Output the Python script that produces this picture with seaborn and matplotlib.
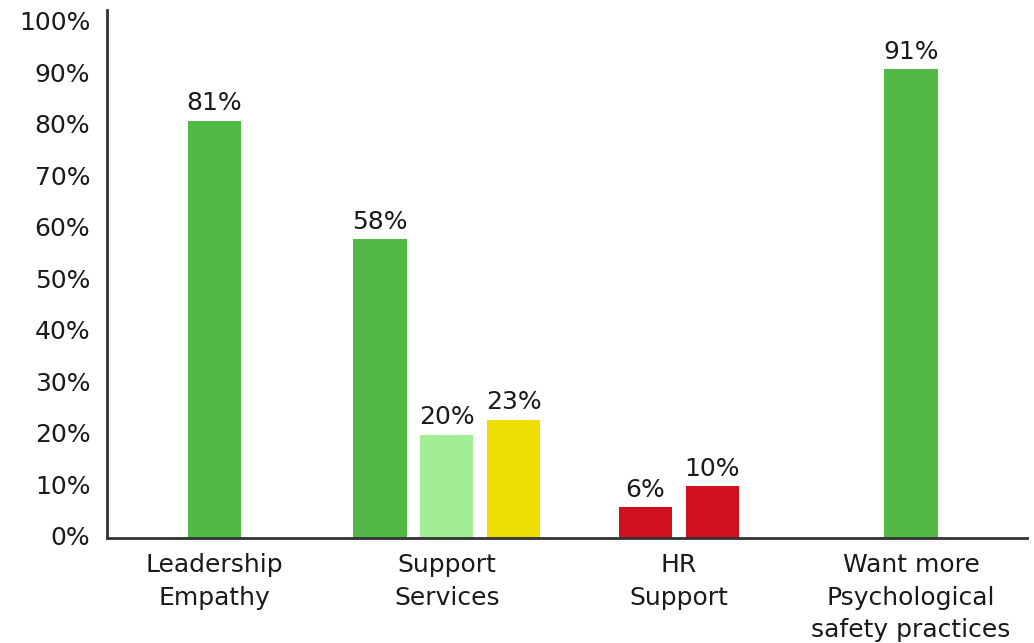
import matplotlib
matplotlib.use("Agg")
import matplotlib.pyplot as plt
import matplotlib.transforms as mtransforms
import numpy as np
import pandas as pd
import seaborn as sns

# Survey results, one list of bar values per question group
groups = ["Leadership\nEmpathy", "Support\nServices", "HR\nSupport",
          "Want more\nPsychological\nsafety practices"]
leadership_empathy = [81]
support_services = [58, 20, 23]
hr_support = [6, 10]
want_more_safety = [91]

leadership_shades = ["positive"]
support_shades = ["positive", "partial", "neutral"]
hr_shades = ["negative", "negative"]
want_shades = ["positive"]

yticks = list(range(0, 101, 10))
ytick_labels = [f"{t}%" for t in yticks]

palette = {
    "positive": "#52B947",
    "partial": "#A3EE94",
    "neutral": "#EEDD00",
    "negative": "#D0101F",
}

# Bars inside a group sit side by side, centred on the group position
slot_step = 0.288
rows = []
for gi, (vals, shades) in enumerate([
    (leadership_empathy, leadership_shades),
    (support_services, support_shades),
    (hr_support, hr_shades),
    (want_more_safety, want_shades),
]):
    n = len(vals)
    for j, (v, s) in enumerate(zip(vals, shades)):
        rows.append({"pos": gi + (j - (n - 1) / 2) * slot_step,
                     "value": v, "shade": s})
df = pd.DataFrame(rows)

sns.set_style("white")
plt.rcParams["font.family"] = ["DejaVu Sans"]
text_color = "#1a1a1a"
fsize = 18

fig = plt.figure(figsize=(10.34, 6.43), dpi=100)
ax = fig.add_axes([0.1035, 0.1633, 0.8895, 0.8211])

sns.barplot(data=df, x="pos", y="value", hue="shade", palette=palette,
            native_scale=True, dodge=False, width=0.80, saturation=1,
            errorbar=None, legend=False, linewidth=0, ax=ax)

for cont in ax.containers:
    ax.bar_label(cont, fmt="{:.0f}%", padding=4, fontsize=fsize,
                 color=text_color)

ax.set_xlim(-0.463, 3.498)
ax.set_ylim(0, 102.5)
ax.set_xticks(range(len(groups)))
ax.set_xticklabels(groups, fontsize=fsize, color=text_color, linespacing=1.45)
ax.set_yticks(yticks)
ax.set_yticklabels(ytick_labels, fontsize=fsize, color=text_color)
ax.tick_params(axis="both", length=0)
ax.tick_params(axis="y", pad=12)
ax.tick_params(axis="x", pad=11)

# lift the percentage labels slightly off their gridline positions
shift = mtransforms.ScaledTranslation(0, 1.5 / 72, fig.dpi_scale_trans)
for lbl in ax.get_yticklabels():
    lbl.set_transform(lbl.get_transform() + shift)

ax.set_xlabel("")
ax.set_ylabel("")
for side in ["top", "right"]:
    ax.spines[side].set_visible(False)
for side in ["left", "bottom"]:
    ax.spines[side].set_color("#333333")
    ax.spines[side].set_linewidth(2)

fig.savefig("out.png", dpi=100)
